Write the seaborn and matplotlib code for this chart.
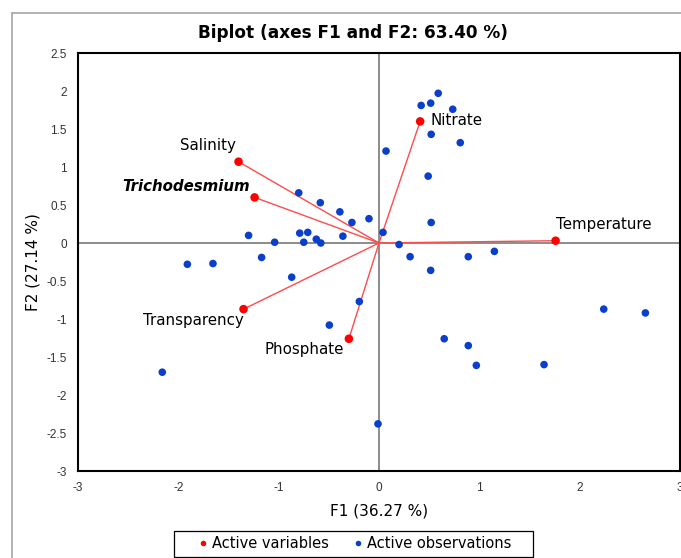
import matplotlib
matplotlib.use("Agg")
import matplotlib.pyplot as plt
import seaborn as sns
import pandas as pd
from matplotlib.lines import Line2D
from matplotlib.patches import Rectangle

# ---- data ----
var_names = ["Nitrate", "Temperature", "Salinity", "Trichodesmium", "Transparency", "Phosphate"]
var_f1 = [0.41, 1.76, -1.40, -1.24, -1.35, -0.30]
var_f2 = [1.60, 0.03, 1.07, 0.60, -0.87, -1.26]

obs_f1 = [-0.80, -0.585, -0.39, -0.27, -0.10, 0.07, 0.04, -1.30, -1.04, -0.79,
          -0.71, -0.75, -0.625, -0.58, -0.36, -1.17, 0.59, 0.42, 0.515, 0.735,
          0.52, 0.81, 0.49, 0.52, 0.20, 0.31, 0.89, 1.15, 0.515, 2.24,
          2.655, 0.65, 0.89, 0.97, 1.645, -0.01, -1.91, -1.655, -0.87, -0.196,
          -0.495, -2.16]
obs_f2 = [0.66, 0.53, 0.41, 0.27, 0.32, 1.21, 0.14, 0.10, 0.01, 0.13,
          0.14, 0.01, 0.05, 0.00, 0.09, -0.19, 1.97, 1.81, 1.84, 1.76,
          1.43, 1.32, 0.88, 0.27, -0.02, -0.18, -0.18, -0.11, -0.36, -0.87,
          -0.92, -1.26, -1.35, -1.61, -1.60, -2.38, -0.28, -0.27, -0.45, -0.77,
          -1.08, -1.70]

x_ticks = [-3, -2, -1, 0, 1, 2, 3]
y_ticks = [-3, -2.5, -2, -1.5, -1, -0.5, 0, 0.5, 1, 1.5, 2, 2.5]

title = "Biplot (axes F1 and F2: 63.40 %)"
xlabel = "F1 (36.27 %)"
ylabel = "F2 (27.14 %)"
legend_labels = ["Active variables", "Active observations"]

# ---- style ----
sns.set_style("white")
plt.rcParams["font.family"] = ["DejaVu Sans"]
plt.rcParams["text.color"] = "black"
plt.rcParams["axes.labelcolor"] = "black"

RED = "#FF0000"
BLUE = "#0A3FCC"

df_obs = pd.DataFrame({"F1": obs_f1, "F2": obs_f2, "type": legend_labels[1]})
df_var = pd.DataFrame({"F1": var_f1, "F2": var_f2, "type": legend_labels[0], "name": var_names})

W, H = 681, 558
fig = plt.figure(figsize=(W / 100, H / 100), dpi=100)
ax = fig.add_axes([78 / W, 1 - 471 / H, (680 - 78) / W, (471 - 53) / H])

# zero lines
ax.axhline(0, color="#8C8C8C", lw=1.4, zorder=1)
ax.axvline(0, color="#8C8C8C", lw=1.4, zorder=1)

# vectors
for x, y in zip(var_f1, var_f2):
    ax.plot([0, x], [0, y], color="#FF4B4B", lw=1.0, zorder=2)

sns.scatterplot(data=df_obs, x="F1", y="F2", color=BLUE, s=30, edgecolor="none",
                ax=ax, zorder=3, legend=False)
sns.scatterplot(data=df_var, x="F1", y="F2", color=RED, s=38, edgecolor="none",
                ax=ax, zorder=4, legend=False)

# labels
offsets = {
    "Nitrate": ((10, 1), "left", "normal", "normal"),
    "Temperature": ((0, 16), "left", "normal", "normal"),
    "Salinity": ((-3, 16), "right", "normal", "normal"),
    "Trichodesmium": ((-5, 11), "right", "bold", "italic"),
    "Transparency": ((0, -11), "right", "normal", "normal"),
    "Phosphate": ((-5, -11), "right", "normal", "normal"),
}
for name, x, y in zip(var_names, var_f1, var_f2):
    (dx, dy), ha, fw, fs = offsets[name]
    ax.annotate(name, (x, y), xytext=(dx, dy), textcoords="offset pixels",
                ha=ha, va="center", fontsize=10.8, fontweight=fw, fontstyle=fs,
                color="black", zorder=5)

ax.set_xlim(-3, 3)
ax.set_ylim(-3, 2.5)
ax.set_xticks(x_ticks)
ax.set_yticks(y_ticks)
ax.set_xticklabels([f"{t:g}" for t in x_ticks], family="Liberation Sans", fontsize=8.5, color="#333333")
ax.set_yticklabels([f"{t:g}" for t in y_ticks], family="Liberation Sans", fontsize=8.5, color="#333333")
ax.tick_params(length=0, pad=8)
ax.set_xlabel(xlabel, fontsize=11, labelpad=7)
ax.set_ylabel(ylabel, fontsize=11, labelpad=4)
for sp in ax.spines.values():
    sp.set_color("black")
    sp.set_linewidth(1.5)

fig.text(353 / W, 1 - 33 / H, title, ha="center", va="center", fontsize=12.2,
         fontweight="bold", color="black")

# outer chart border
fig.add_artist(Line2D([12 / W, 1], [1 - 13 / H, 1 - 13 / H], color="#A6A6A6", lw=1.2, transform=fig.transFigure))
fig.add_artist(Line2D([12 / W, 12 / W], [0, 1 - 13 / H], color="#A6A6A6", lw=1.2, transform=fig.transFigure))

handles = [
    Line2D([0], [0], marker="o", color="none", markerfacecolor=RED, markeredgecolor="none", markersize=4, label=legend_labels[0]),
    Line2D([0], [0], marker="o", color="none", markerfacecolor=BLUE, markeredgecolor="none", markersize=4, label=legend_labels[1]),
]
leg = fig.legend(handles=handles, loc="center", bbox_to_anchor=(355 / W, 1 - 544 / H), ncol=2,
                 frameon=False, fontsize=10.5, handlelength=0.6, handletextpad=0.3, columnspacing=1.7,
                 borderpad=0.3)
# legend frame
fig.add_artist(Rectangle((174 / W, 1 - 557 / H), (533 - 174) / W, (557 - 531) / H,
                         transform=fig.transFigure, fill=False, edgecolor="black", lw=0.9))

fig.savefig("out.png", dpi=100)
